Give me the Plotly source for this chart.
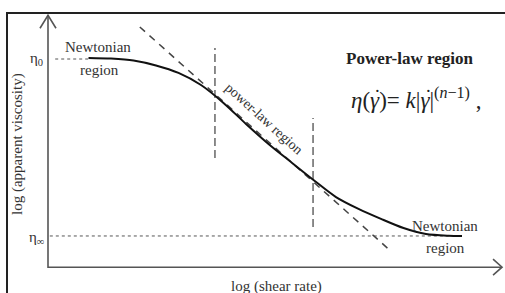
import plotly.graph_objects as go

# ---- data (schematic units: log shear rate, log apparent viscosity) ----
log_shear = [0.9, 1.4, 1.9, 2.4, 2.9, 3.4, 3.9, 4.4, 4.9, 5.4, 5.9, 6.4, 6.9, 7.4, 7.9, 8.4, 8.9, 9.2]
log_visc = [10.05, 10.02, 9.93, 9.69, 9.33, 8.75, 7.89, 6.88, 5.92, 5.05, 4.19, 3.37, 2.80, 2.32, 1.88, 1.59, 1.51, 1.5]
eta0_level = 10.0
etainf_level = 1.5
power_law_x = [2.04, 7.64]
power_law_y = [11.54, 0.73]
region_bounds_x = [3.71, 5.89]
region_bounds_ylo = [5.24, 1.93]
region_bounds_yhi = [10.53, 7.17]
x_axis_end = 10.09
y_axis_end = 12.1

# ---- layout mapping (pixels) ----
W, H = 505, 293
PX0, SX = 48, 45.0
PY0, SY = 267.2, 20.82
xr = [(0 - PX0) / SX, (W - PX0) / SX]
yr = [(PY0 - H) / SY, PY0 / SY]

def dx(p):  # pixel x -> data x
    return (p - PX0) / SX

def dy(p):  # pixel y -> data y
    return (PY0 - p) / SY

def px(x):
    return x / W

def py(y):
    return 1 - y / H

SERIF = "Liberation Serif, Times New Roman, serif"
AX = "#555"

fig = go.Figure()

# outer frame (left and top edges)
fig.add_trace(go.Scatter(x=[dx(7), dx(7), dx(W + 5)], y=[dy(H + 5), dy(13), dy(13)], mode="lines",
                         line=dict(color="#222", width=2), hoverinfo="skip", cliponaxis=True))

# eta0 and eta_inf dotted reference lines
fig.add_trace(go.Scatter(x=[0.16, log_shear[0]], y=[eta0_level, eta0_level], mode="lines",
                         line=dict(color="#555", width=1, dash="dot"), hoverinfo="skip"))
fig.add_trace(go.Scatter(x=[0.04, log_shear[-1]], y=[etainf_level, etainf_level], mode="lines",
                         line=dict(color="#555", width=1, dash="dot"), hoverinfo="skip"))

# power-law tangent line
fig.add_trace(go.Scatter(x=power_law_x, y=power_law_y, mode="lines",
                         line=dict(color="#444", width=1.5, dash="7px,6px"), hoverinfo="skip"))

# vertical region boundaries
for xb, ylo, yhi in zip(region_bounds_x, region_bounds_ylo, region_bounds_yhi):
    fig.add_trace(go.Scatter(x=[xb, xb], y=[ylo, yhi], mode="lines",
                             line=dict(color="#666", width=1.5, dash="8px,4px"), hoverinfo="skip"))

# viscosity curve
fig.add_trace(go.Scatter(x=log_shear, y=log_visc, mode="lines",
                         line=dict(color="#111", width=2, shape="spline", smoothing=0.8),
                         hoverinfo="skip"))

# axes with open arrowheads
tipx_px, tipy_px = PX0, PY0 - y_axis_end * SY
tx_px, ty_px = PX0 + x_axis_end * SX, PY0
fig.add_trace(go.Scatter(x=[0, 0, x_axis_end], y=[y_axis_end, 0, 0], mode="lines",
                         line=dict(color=AX, width=1.6), hoverinfo="skip"))
fig.add_trace(go.Scatter(x=[dx(tipx_px - 8), 0, dx(tipx_px + 8)],
                         y=[dy(tipy_px + 13), y_axis_end, dy(tipy_px + 13)], mode="lines",
                         line=dict(color=AX, width=1.6), hoverinfo="skip"))
fig.add_trace(go.Scatter(x=[dx(tx_px - 9), x_axis_end, dx(tx_px - 9)],
                         y=[dy(ty_px - 8), 0, dy(ty_px + 8)], mode="lines",
                         line=dict(color=AX, width=1.6), hoverinfo="skip"))

def ann(text, x, y, size=15, angle=0, color="#333", family=SERIF):
    return dict(text=text, xref="paper", yref="paper", x=px(x), y=py(y), xanchor="center", yanchor="middle",
                showarrow=False, textangle=angle, font=dict(family=family, size=size, color=color))

annotations = [
    ann("Newtonian", 98, 47),
    ann("region", 99, 70),
    ann("power-law region", 264, 118, size=14, angle=42),
    ann("<b>Power-law region</b>", 410, 58, size=17, color="#222"),
    ann("<i>η</i>(<i>γ</i>)= <i>k</i>|<i>γ</i>|<sup>(<i>n</i>−1)</sup> ,", 416, 98, size=23, color="#222"),
    ann("˙", 377, 97, size=20, color="#222"),
    ann("˙", 428, 97, size=20, color="#222"),
    ann("Newtonian", 445, 226),
    ann("region", 445, 248),
    ann("log (shear rate)", 276, 286),
    ann("log (apparent viscosity)", 17, 144, angle=-90),
    ann("η<sub>0</sub>", 36, 59, size=15),
    ann("η<sub>∞</sub>", 36, 238, size=15),
]

fig.update_layout(
    width=W, height=H,
    margin=dict(l=0, r=0, t=0, b=0),
    paper_bgcolor="white", plot_bgcolor="white",
    showlegend=False,
    xaxis=dict(range=xr, visible=False, fixedrange=True),
    yaxis=dict(range=yr, visible=False, fixedrange=True),
    annotations=annotations,
)

fig.write_html("out.html", config={"displayModeBar": False},
               post_script="document.body.style.margin='0';document.body.style.overflow='hidden';")
